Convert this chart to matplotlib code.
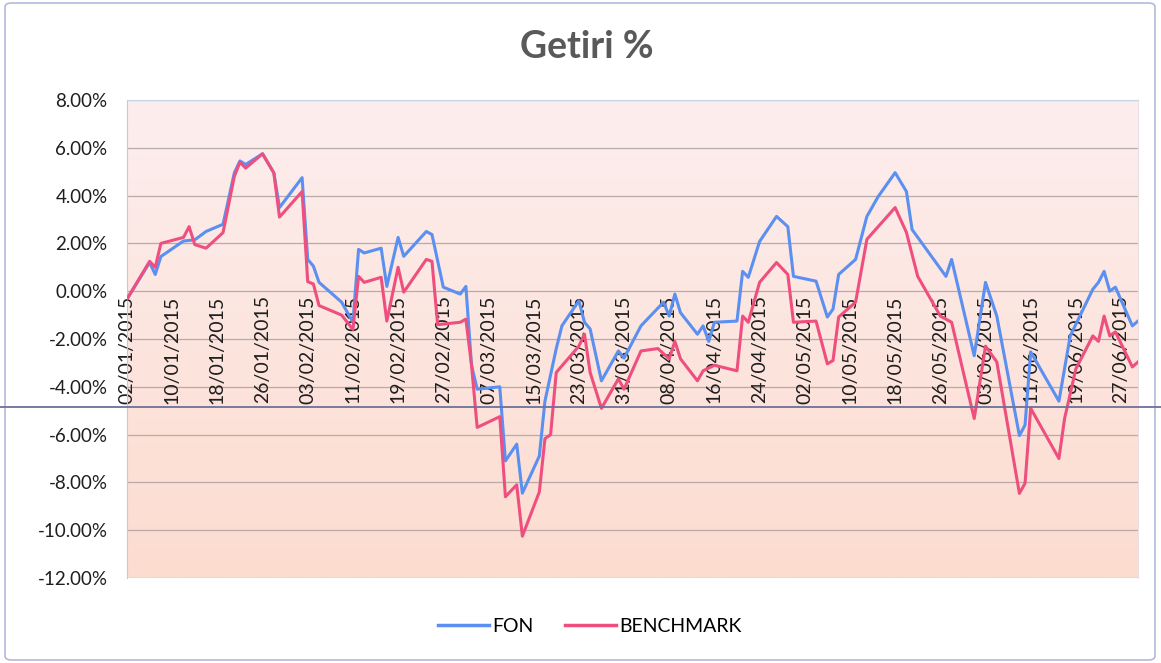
import numpy as np
import pandas as pd
import matplotlib
matplotlib.use("Agg")
import matplotlib.pyplot as plt
import matplotlib.dates as mdates
from matplotlib.lines import Line2D
from matplotlib.patches import FancyBboxPatch
from matplotlib.colors import LinearSegmentedColormap

plt.rcParams['font.family'] = ['Lato', 'DejaVu Sans']

# FON series (vertices)
fon_dates = ["2015-01-02", "2015-01-06", "2015-01-07", "2015-01-08", "2015-01-12", "2015-01-14",
             "2015-01-16", "2015-01-19", "2015-01-21", "2015-01-22", "2015-01-23", "2015-01-26",
             "2015-01-28", "2015-01-29", "2015-02-02", "2015-02-03", "2015-02-04", "2015-02-05",
             "2015-02-09", "2015-02-11", "2015-02-12", "2015-02-13", "2015-02-16", "2015-02-17",
             "2015-02-19", "2015-02-20", "2015-02-24", "2015-02-25", "2015-02-27", "2015-03-02",
             "2015-03-03", "2015-03-04", "2015-03-05", "2015-03-09", "2015-03-10", "2015-03-12",
             "2015-03-13", "2015-03-16", "2015-03-17", "2015-03-19", "2015-03-20", "2015-03-23",
             "2015-03-24", "2015-03-25", "2015-03-27", "2015-03-30", "2015-03-31", "2015-04-03",
             "2015-04-07", "2015-04-08", "2015-04-09", "2015-04-10", "2015-04-13", "2015-04-14",
             "2015-04-15", "2015-04-16", "2015-04-20", "2015-04-21", "2015-04-22", "2015-04-24",
             "2015-04-27", "2015-04-29", "2015-04-30", "2015-05-04", "2015-05-06", "2015-05-07",
             "2015-05-08", "2015-05-11", "2015-05-13", "2015-05-15", "2015-05-18", "2015-05-20",
             "2015-05-21", "2015-05-27", "2015-05-28", "2015-06-01", "2015-06-03", "2015-06-05",
             "2015-06-09", "2015-06-10", "2015-06-11", "2015-06-16", "2015-06-18", "2015-06-22",
             "2015-06-23", "2015-06-24", "2015-06-25", "2015-06-26", "2015-06-29", "2015-06-30"]
fon_values = [-0.33, 1.2, 0.7, 1.45, 2.1, 2.15,
              2.5, 2.8, 4.95, 5.45, 5.3, 5.75,
              4.95, 3.5, 4.75, 1.33, 1.05, 0.37,
              -0.46, -1.3, 1.75, 1.6, 1.8, 0.2,
              2.25, 1.46, 2.5, 2.37, 0.17, -0.12,
              0.2, -3.1, -4.1, -4.0, -7.1, -6.4,
              -8.45, -6.9, -4.6, -2.4, -1.45, -0.4,
              -1.3, -1.58, -3.75, -2.5, -2.8, -1.45,
              -0.46, -1.04, -0.12, -0.9, -1.8, -1.45,
              -2.1, -1.3, -1.25, 0.83, 0.58, 2.08,
              3.13, 2.7, 0.62, 0.42, -1.08, -0.75,
              0.7, 1.33, 3.13, 3.96, 4.96, 4.17,
              2.58, 0.62, 1.33, -2.7, 0.37, -1.04,
              -6.04, -5.6, -2.54, -4.6, -1.87, 0.08,
              0.37, 0.83, 0.0, 0.17, -1.45, -1.25]

# BENCHMARK series
bm_dates = ["2015-01-02", "2015-01-06", "2015-01-07", "2015-01-08", "2015-01-12", "2015-01-13",
            "2015-01-14", "2015-01-16", "2015-01-19", "2015-01-21", "2015-01-22", "2015-01-23",
            "2015-01-26", "2015-01-28", "2015-01-29", "2015-02-02", "2015-02-03", "2015-02-04",
            "2015-02-05", "2015-02-09", "2015-02-11", "2015-02-12", "2015-02-13", "2015-02-16",
            "2015-02-17", "2015-02-19", "2015-02-20", "2015-02-24", "2015-02-25", "2015-02-26",
            "2015-03-02", "2015-03-03", "2015-03-04", "2015-03-05", "2015-03-09", "2015-03-10",
            "2015-03-12", "2015-03-13", "2015-03-16", "2015-03-17", "2015-03-18", "2015-03-19",
            "2015-03-23", "2015-03-24", "2015-03-25", "2015-03-27", "2015-03-30", "2015-03-31",
            "2015-04-03", "2015-04-06", "2015-04-08", "2015-04-09", "2015-04-10", "2015-04-13",
            "2015-04-14", "2015-04-16", "2015-04-20", "2015-04-21", "2015-04-22", "2015-04-24",
            "2015-04-27", "2015-04-29", "2015-04-30", "2015-05-04", "2015-05-06", "2015-05-07",
            "2015-05-08", "2015-05-11", "2015-05-13", "2015-05-18", "2015-05-20", "2015-05-22",
            "2015-05-26", "2015-05-28", "2015-06-01", "2015-06-03", "2015-06-05", "2015-06-09",
            "2015-06-10", "2015-06-11", "2015-06-16", "2015-06-17", "2015-06-19", "2015-06-22",
            "2015-06-23", "2015-06-24", "2015-06-25", "2015-06-26", "2015-06-29", "2015-06-30"]
bm_values = [-0.33, 1.25, 1.0, 2.0, 2.25, 2.7,
             1.95, 1.8, 2.45, 4.8, 5.4, 5.15,
             5.75, 4.95, 3.1, 4.17, 0.4, 0.3,
             -0.6, -1.0, -1.6, 0.62, 0.37, 0.58,
             -1.25, 1.0, -0.04, 1.33, 1.25, -1.4,
             -1.3, -1.17, -3.1, -5.7, -5.25, -8.6,
             -8.1, -10.25, -8.4, -6.17, -6.0, -3.4,
             -2.3, -1.8, -3.4, -4.9, -3.67, -4.1,
             -2.5, -2.4, -2.83, -2.1, -2.83, -3.75,
             -3.33, -3.1, -3.33, -1.04, -1.3, 0.37,
             1.2, 0.7, -1.3, -1.25, -3.04, -2.9,
             -1.08, -0.46, 2.17, 3.5, 2.46, 0.62,
             -1.04, -1.3, -5.33, -2.3, -2.96, -8.46,
             -8.04, -4.9, -7.0, -5.33, -3.25, -1.87,
             -2.1, -1.04, -1.87, -1.7, -3.17, -2.96]

y_ticks = [8, 6, 4, 2, 0, -2, -4, -6, -8, -10, -12]
x_tick_start = "2015-01-02"
x_tick_step_days = 8
x_tick_count = 23

fig = plt.figure(figsize=(11.61, 6.63), dpi=100)
ax = fig.add_axes([127 / 1161, 1 - 578 / 663, (1138 - 127) / 1161, 478 / 663])

x_lo = mdates.date2num(pd.Timestamp("2015-01-02"))
x_hi = mdates.date2num(pd.Timestamp("2015-06-30"))

# gradient background of the plot area
cmap = LinearSegmentedColormap.from_list("bg", ["#fdeeee", "#fcdccf"])
grad = np.linspace(0, 1, 256).reshape(-1, 1)
ax.imshow(grad, aspect='auto', cmap=cmap, extent=[x_lo, x_hi, -12, 8],
          origin='upper', zorder=0)

for y in y_ticks:
    ax.axhline(y, color='#b7aaa8', lw=0.9, zorder=1)

ax.plot(pd.to_datetime(fon_dates), fon_values, color='#5b8ff0', lw=2.2, label='FON', zorder=3)
ax.plot(pd.to_datetime(bm_dates), bm_values, color='#ee4f7e', lw=2.2, label='BENCHMARK', zorder=3)

ax.set_xlim(x_lo, x_hi)
ax.set_ylim(-12, 8)

# the date axis crosses the value axis at zero, as in Excel
ax.spines['bottom'].set_position(('data', 0))

ax.set_yticks(y_ticks)
ax.set_yticklabels([f"{v:.2f}%" for v in y_ticks], fontsize=13.5, color='#1e1e1e')

ticks = pd.date_range(x_tick_start, periods=x_tick_count, freq=f"{x_tick_step_days}D")
ax.set_xticks(ticks)
ax.set_xticklabels([t.strftime("%d/%m/%Y") for t in ticks], rotation=90,
                   fontsize=14, color='#1e1e1e', va='top', ha='center')
ax.tick_params(axis='both', length=0)
ax.tick_params(axis='x', pad=3)
ax.tick_params(axis='y', pad=14)
ax.spines['bottom'].set_visible(False)
ax.spines['left'].set_color('#b8cbe6')
ax.spines['top'].set_color('#c8d4e8')
ax.spines['right'].set_color('#e8e0e4')

fig.text(587 / 1161, 1 - 47 / 663, "Getiri %", ha='center', va='center',
         fontsize=27, fontweight='bold', color='#595959')

fig.legend(handles=[Line2D([0], [0], color='#5b8ff0', lw=2.5),
                    Line2D([0], [0], color='#ee4f7e', lw=2.5)],
           labels=['FON', 'BENCHMARK'], loc='center', ncol=2,
           bbox_to_anchor=(590 / 1161, 1 - 626 / 663), frameon=False,
           fontsize=14, handlelength=2.6, handletextpad=0.2, columnspacing=1.6)

# chart outer border
fig.patches.append(FancyBboxPatch((5 / 1161, 3 / 663), 1150 / 1161, 657 / 663,
                                  boxstyle="round,pad=0,rounding_size=0.006",
                                  transform=fig.transFigure, fill=False,
                                  edgecolor='#b4b8dc', lw=1.2))
# horizontal scan line running across the page
fig.add_artist(Line2D([0, 1], [1 - 407 / 663, 1 - 407 / 663], transform=fig.transFigure,
                      color='#6d7199', lw=1.3))

fig.savefig("out.png", dpi=100)
